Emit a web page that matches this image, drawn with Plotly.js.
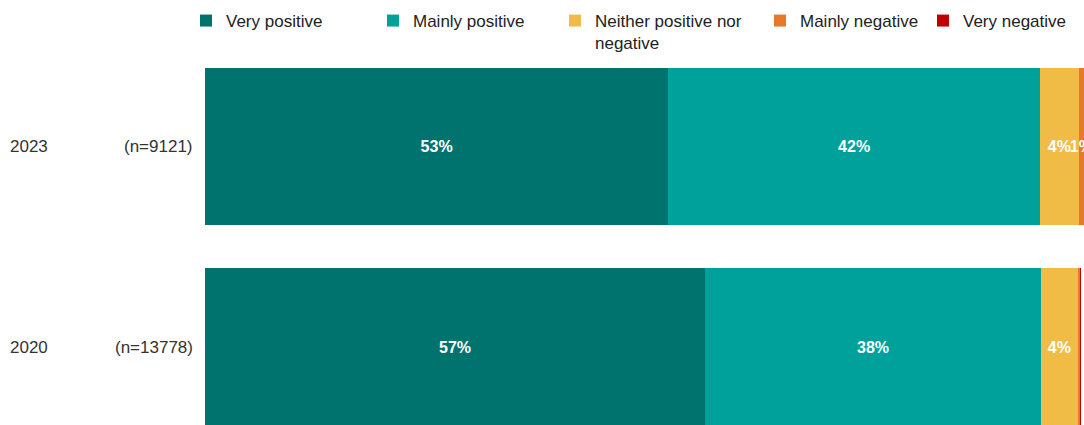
<!DOCTYPE html>
<html><head><meta charset="utf-8">
<script src="https://cdn.plot.ly/plotly-3.0.1.min.js"></script>
<style>html,body{margin:0;padding:0;background:#fff}#chart{width:1084px;height:425px}</style>
</head><body><div id="chart"></div>
<script>
var years = ['2023', '2020'];
var sampleSizes = ['(n=9121)', '(n=13778)'];
var seriesNames = ['Very positive', 'Mainly positive', 'Neither positive nor<br>negative', 'Mainly negative', 'Very negative'];
var seriesColors = ['#00736f', '#00a09b', '#f0bc45', '#e8792a', '#c00000'];
var veryPositive = [52.7, 56.9];
var mainlyPositive = [42.3, 38.2];
var neither = [4.4, 4.2];
var mainlyNegative = [0.6, 0.3];
var veryNegative = [0.0, 0.1];
var legendX = [186, 373, 555, 760, 923];

var seriesValues = [veryPositive, mainlyPositive, neither, mainlyNegative, veryNegative];
var legendIds = ['legend', 'legend2', 'legend3', 'legend4', 'legend5'];
var FONT = 'Liberation Sans, Arial, sans-serif';

var traces = seriesValues.map(function (vals, i) {
  return {
    type: 'bar', orientation: 'h',
    name: seriesNames[i], x: vals, y: years,
    marker: {color: seriesColors[i], line: {width: 0}},
    text: vals.map(function (v) { return v >= 0.5 ? Math.round(v) + '%' : ''; }),
    textposition: 'inside', insidetextanchor: 'middle', constraintext: 'none', textangle: 0,
    textfont: {family: FONT, size: 16, color: '#ffffff', weight: 'bold'},
    cliponaxis: false,
    hoverinfo: 'name+x',
    legend: legendIds[i]
  };
});

var layout = {
  width: 1084, height: 425,
  margin: {l: 205, r: 0, t: 46, b: 0, autoexpand: false},
  paper_bgcolor: '#ffffff', plot_bgcolor: '#ffffff',
  barmode: 'stack', bargap: 0.214,
  showlegend: true,
  xaxis: {range: [0, 100], visible: false, fixedrange: true},
  yaxis: {type: 'category', categoryorder: 'array', categoryarray: years,
          range: [1.386, -0.5], showticklabels: false, showgrid: false,
          zeroline: false, showline: false, ticks: ''},
  font: {family: FONT, size: 17, color: '#222'},
  annotations: []
};
legendIds.forEach(function (id, i) {
  layout[id] = {
    xref: 'container', yref: 'container',
    x: legendX[i] / 1084, y: 1 - 3 / 425, xanchor: 'left', yanchor: 'top',
    orientation: 'h', valign: 'top', bgcolor: 'rgba(0,0,0,0)',
    font: {family: FONT, size: 17, color: '#222'}
  };
});
years.forEach(function (yr, i) {
  layout.annotations.push({xref: 'paper', yref: 'y', x: -197 / 879, y: i,
    text: yr, showarrow: false, xanchor: 'left',
    font: {family: FONT, size: 17, color: '#333'}});
  layout.annotations.push({xref: 'paper', yref: 'y', x: -10 / 879, y: i,
    text: sampleSizes[i], showarrow: false, xanchor: 'right',
    font: {family: FONT, size: 17, color: '#333'}});
});

Plotly.newPlot('chart', traces, layout, {displayModeBar: false, staticPlot: true});
</script></body></html>
